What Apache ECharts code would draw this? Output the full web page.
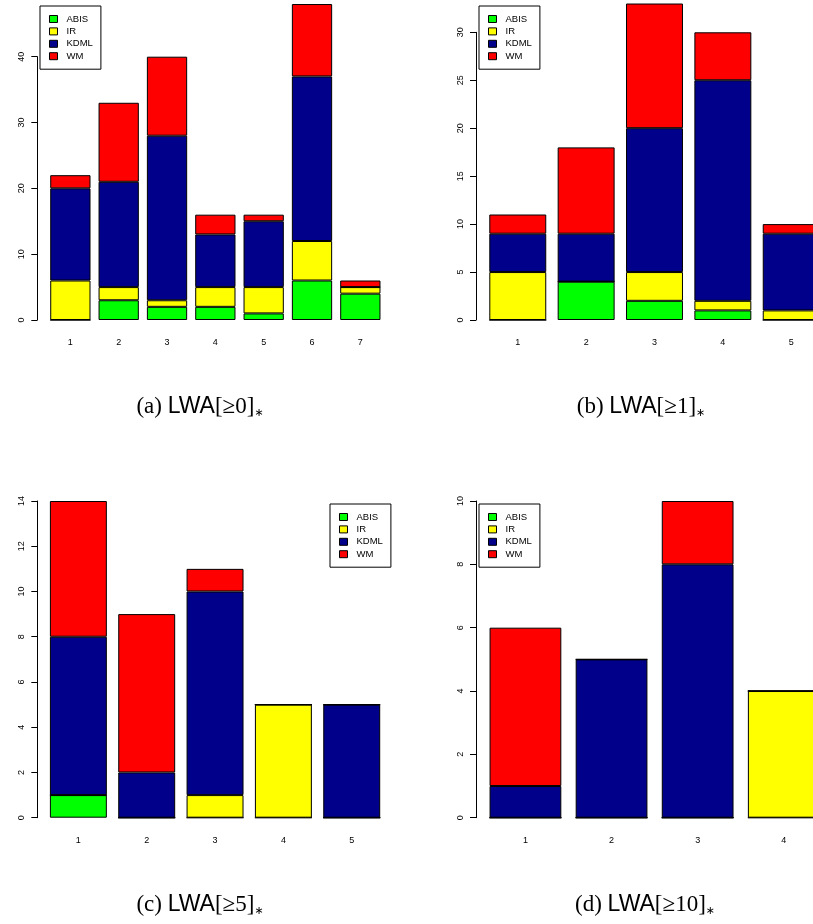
<!DOCTYPE html>
<html>
<head>
<meta charset="utf-8">
<script src="https://cdn.jsdelivr.net/npm/echarts@6/dist/echarts.min.js"></script>
<style>
  html, body { margin: 0; padding: 0; background: #fff; }
  #chart { width: 813px; height: 924px; }
</style>
</head>
<body>
<div id="chart"></div>
<script>
// Method names, stacked bottom to top
const methods = ['ABIS', 'IR', 'KDML', 'WM'];
const methodColors = ['#00FF00', '#FFFF00', '#00008B', '#FF0000'];

// (a) LWA[>=0]*
const categoriesA = ['1', '2', '3', '4', '5', '6', '7'];
const abisA = [0, 3, 2, 2, 1, 6, 4];
const irA   = [6, 2, 1, 3, 4, 6, 1];
const kdmlA = [14, 16, 25, 8, 10, 25, 0];
const wmA   = [2, 12, 12, 3, 1, 11, 1];
const ticksA = { max: 40, interval: 10 };

// (b) LWA[>=1]*
const categoriesB = ['1', '2', '3', '4', '5'];
const abisB = [0, 4, 2, 1, 0];
const irB   = [5, 0, 3, 1, 1];
const kdmlB = [4, 5, 15, 23, 8];
const wmB   = [2, 9, 13, 5, 1];
const ticksB = { max: 30, interval: 5 };

// (c) LWA[>=5]*
const categoriesC = ['1', '2', '3', '4', '5'];
const abisC = [1, 0, 0, 0, 0];
const irC   = [0, 0, 1, 5, 0];
const kdmlC = [7, 2, 9, 0, 5];
const wmC   = [6, 7, 1, 0, 0];
const ticksC = { max: 14, interval: 2 };

// (d) LWA[>=10]*
const categoriesD = ['1', '2', '3', '4'];
const abisD = [0, 0, 0, 0];
const irD   = [0, 0, 0, 4];
const kdmlD = [1, 5, 8, 0];
const wmD   = [5, 0, 2, 0];
const ticksD = { max: 10, interval: 2 };

const captions = [
  { tag: '(a) ', cond: '[≥0]' },
  { tag: '(b) ', cond: '[≥1]' },
  { tag: '(c) ', cond: '[≥5]' },
  { tag: '(d) ', cond: '[≥10]' }
];

// Plot frames; the right-hand panels run past the page edge, so their last bar is cut off
const panels = [
  { cats: categoriesA, values: [abisA, irA, kdmlA, wmA], ticks: ticksA,
    grid: { left: 46.2, top: 56.7, width: 338.3, height: 263.3 }, axisOffset: 8.9,
    legend: { left: 40, top: 6 }, caption: { x: 200, y: 407 } },
  { cats: categoriesB, values: [abisB, irB, kdmlB, wmB], ticks: ticksB,
    grid: { left: 483.6, top: 32.3, width: 341.8, height: 287.7 }, axisOffset: 7.6,
    legend: { left: 479, top: 6 }, caption: { x: 641, y: 407 } },
  { cats: categoriesC, values: [abisC, irC, kdmlC, wmC], ticks: ticksC,
    grid: { left: 44.2, top: 501, width: 341.7, height: 316.7 }, axisOffset: 6.9,
    legend: { left: 330, top: 504 }, caption: { x: 200, y: 905 } },
  { cats: categoriesD, values: [abisD, irD, kdmlD, wmD], ticks: ticksD,
    grid: { left: 482.4, top: 501, width: 344.4, height: 316.7 }, axisOffset: 6.4,
    legend: { left: 479, top: 504 }, caption: { x: 645, y: 905 } }
];

const labelFont = 'Liberation Sans, Arial, Helvetica, sans-serif';

const grid = [], xAxis = [], yAxis = [], series = [], legend = [], graphic = [];

panels.forEach((p, i) => {
  grid.push(Object.assign({ containLabel: false, outerBoundsMode: 'none' }, p.grid));
  xAxis.push({
    type: 'category', gridIndex: i, data: p.cats,
    axisLine: { show: false }, axisTick: { show: false },
    axisLabel: { fontSize: 9, color: '#000', fontFamily: labelFont, margin: 18 },
    splitLine: { show: false }
  });
  yAxis.push({
    type: 'value', gridIndex: i, min: 0, max: p.ticks.max, interval: p.ticks.interval,
    offset: p.axisOffset,
    axisLine: { show: true, lineStyle: { color: '#000', width: 1 } },
    axisTick: { show: true, length: 6, lineStyle: { color: '#000', width: 1 } },
    axisLabel: { rotate: 90, fontSize: 9, color: '#000', fontFamily: labelFont, margin: 11 },
    splitLine: { show: false }
  });
  methods.forEach((m, k) => {
    series.push({
      type: 'bar', name: m, xAxisIndex: i, yAxisIndex: i, stack: 'panel' + i,
      data: p.values[k], barWidth: '83.33%', clip: false,
      itemStyle: { color: methodColors[k], borderColor: '#000', borderWidth: 1 },
      emphasis: { disabled: true }
    });
  });
  legend.push({
    data: methods, orient: 'vertical', left: p.legend.left, top: p.legend.top,
    itemWidth: 8, itemHeight: 7, itemGap: 2.4, icon: 'rect',
    padding: [8, 8, 8, 9], borderColor: '#000', borderWidth: 1, borderRadius: 0,
    backgroundColor: '#fff',
    itemStyle: { borderColor: '#000', borderWidth: 1 },
    textStyle: { fontSize: 9.5, lineHeight: 10, color: '#000', fontFamily: labelFont, padding: [0, 0, 0, 4] },
    selectedMode: false
  });
  graphic.push({
    type: 'text', x: p.caption.x, y: p.caption.y,
    style: {
      text: '{s|' + captions[i].tag + '}{f|LWA}{s|' + captions[i].cond + '}{u|∗}',
      align: 'center', verticalAlign: 'middle',
      rich: {
        s: { fontFamily: 'Liberation Serif, Times New Roman, serif', fontSize: 23, lineHeight: 24, fill: '#000' },
        f: { fontFamily: labelFont, fontSize: 23, lineHeight: 24, fill: '#000' },
        u: { fontFamily: 'DejaVu Sans, sans-serif', fontSize: 11, lineHeight: 2, verticalAlign: 'bottom', fill: '#000' }
      }
    }
  });
});

const chart = echarts.init(document.getElementById('chart'), null, { renderer: 'canvas' });
chart.setOption({
  backgroundColor: '#fff',
  animation: false,
  grid, xAxis, yAxis, series, legend, graphic
});
</script>
</body>
</html>
